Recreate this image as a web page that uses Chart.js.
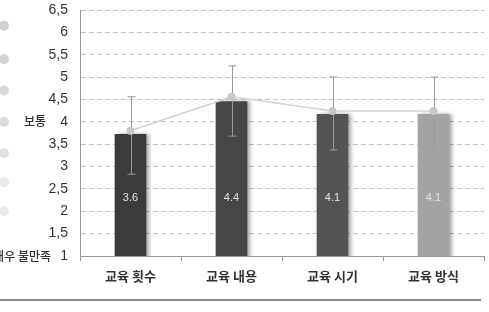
<!DOCTYPE html>
<html>
<head>
<meta charset="utf-8">
<script src="https://cdn.jsdelivr.net/npm/chart.js@4.4.0/dist/chart.umd.min.js"></script>
<style>
  html, body { margin: 0; padding: 0; background: #fff; }
  #wrap { width: 489px; height: 312px; position: relative; }
</style>
</head>
<body>
<div id="wrap"><canvas id="myChart"></canvas></div>
<script>
const categories = ['교육 횟수', '교육 내용', '교육 시기', '교육 방식'];
const barValues = [3.72, 4.45, 4.17, 4.17];
const barLabels = ['3.6', '4.4', '4.1', '4.1'];
const lineValues = [3.8, 4.56, 4.24, 4.24];
const errorLow = [2.83, 3.68, 3.37, 3.37];
const errorHigh = [4.56, 5.25, 5.0, 5.0];
const barColors = ['#3b3b3b', '#474747', '#545454', '#a3a3a3'];
const sideLabels = [{ value: 4, text: '보통' }, { value: 1, text: '매우 불만족' }];
const sideDots = [6.15, 5.4, 4.7, 4.0, 3.3, 2.65, 2.0];
const dotColors = ['#cfcfcf', '#d3d3d3', '#d7d7d7', '#dcdcdc', '#e2e2e2', '#e9e9e9', '#ececec'];

const FONT = "'Liberation Sans', Arial, 'Noto Sans CJK KR', sans-serif";
const KFONT = "'Noto Sans CJK KR', 'Liberation Sans', sans-serif";

const barShadow = {
  id: 'barShadow',
  beforeDatasetDraw(chart, args) {
    if (args.index !== 0) return;
    const { ctx } = chart;
    ctx.save();
    ctx.shadowColor = 'rgba(0,0,0,0.35)';
    ctx.shadowBlur = 4;
    ctx.shadowOffsetX = 3;
    ctx.shadowOffsetY = 0;
  },
  afterDatasetDraw(chart, args) {
    if (args.index !== 0) return;
    chart.ctx.restore();
    // error bars and value labels on top of the bars
    const { ctx } = chart;
    const x = chart.scales.x;
    const y = chart.scales.y;
    ctx.save();
    ctx.strokeStyle = '#9a9a9a';
    ctx.lineWidth = 1;
    categories.forEach((c, i) => {
      const px = Math.round(x.getPixelForValue(i)) + 0.5;
      const y1 = y.getPixelForValue(errorLow[i]);
      const y2 = y.getPixelForValue(errorHigh[i]);
      ctx.beginPath();
      ctx.moveTo(px, y1);
      ctx.lineTo(px, y2);
      ctx.moveTo(px - 4, y1);
      ctx.lineTo(px + 4, y1);
      ctx.moveTo(px - 4, y2);
      ctx.lineTo(px + 4, y2);
      ctx.stroke();
    });
    ctx.fillStyle = '#e2e2e2';
    ctx.font = '11px ' + FONT;
    ctx.textAlign = 'center';
    ctx.textBaseline = 'middle';
    barLabels.forEach((t, i) => {
      ctx.fillText(t, x.getPixelForValue(i), y.getPixelForValue(2.3));
    });
    ctx.restore();
  },
};

const sideDecor = {
  id: 'sideDecor',
  afterDraw(chart) {
    const { ctx } = chart;
    const y = chart.scales.y;
    ctx.save();
    sideDots.forEach((v, i) => {
      ctx.fillStyle = dotColors[i];
      ctx.beginPath();
      ctx.arc(4, y.getPixelForValue(v), 5, 0, Math.PI * 2);
      ctx.fill();
    });
    ctx.fillStyle = '#333';
    ctx.font = '500 12px ' + KFONT;
    ctx.textAlign = 'right';
    ctx.textBaseline = 'middle';
    sideLabels.forEach((s) => {
      ctx.fillText(s.text, s.value === 1 ? 51 : 46, y.getPixelForValue(s.value));
    });
    ctx.strokeStyle = '#8a8a8a';
    ctx.lineWidth = 2;
    ctx.beginPath();
    ctx.moveTo(0, chart.height - 12);
    ctx.lineTo(481, chart.height - 12);
    ctx.stroke();
    ctx.restore();
  },
};

const ctx = document.getElementById('myChart').getContext('2d');
const chart = new Chart(ctx, {
  type: 'bar',
  data: {
    labels: categories,
    datasets: [
      {
        type: 'bar',
        data: barValues,
        backgroundColor: barColors,
        barThickness: 31,
        order: 2,
      },
      {
        type: 'line',
        data: lineValues,
        borderColor: '#d2d2d2',
        borderWidth: 1.5,
        pointRadius: 4,
        pointBackgroundColor: '#c8c8c8',
        pointBorderWidth: 0,
        order: 1,
      },
    ],
  },
  options: {
    responsive: true,
    maintainAspectRatio: false,
    animation: false,
    layout: { padding: { top: 10, right: 5, left: 0, bottom: 0 } },
    plugins: { legend: { display: false }, tooltip: { enabled: false } },
    scales: {
      x: {
        grid: { display: true, drawOnChartArea: false, tickLength: 5, color: '#999' },
        border: { color: '#999' },
        ticks: { color: '#333', font: { family: KFONT, size: 13, weight: 'bold' }, padding: 7 },
        afterFit(scale) { scale.height = 56; },
      },
      y: {
        min: 1,
        max: 6.5,
        grid: { color: '#c4c4c4', drawTicks: false },
        border: { color: '#999', dash: [5, 3] },
        ticks: {
          stepSize: 0.5,
          color: '#333',
          padding: 12,
          font: { family: FONT, size: 14 },
          callback: (v) => String(v).replace('.', ','),
        },
        afterFit(scale) {
          scale.width = 80;
          scale.paddingTop = 0;
          scale.paddingBottom = 0;
        },
      },
    },
  },
  plugins: [barShadow, sideDecor],
});
</script>
</body>
</html>
